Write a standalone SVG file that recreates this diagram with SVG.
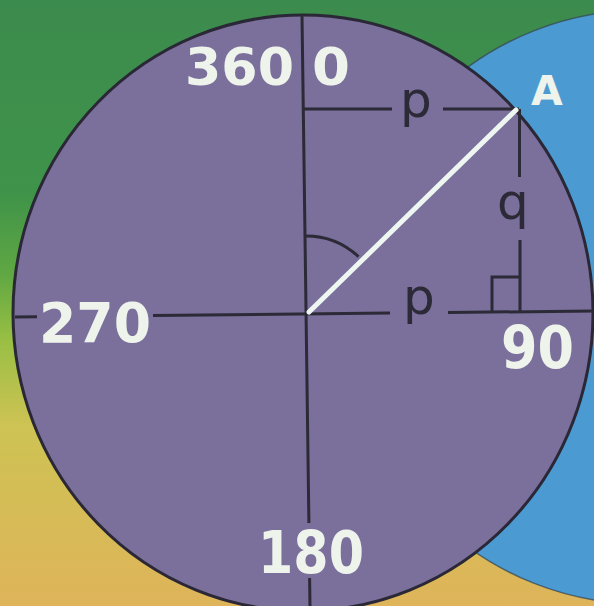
<svg xmlns="http://www.w3.org/2000/svg" width="594" height="606" viewBox="0 0 594 606">
  <defs>
    <linearGradient id="bg" x1="0" y1="0" x2="0" y2="1">
      <stop offset="0" stop-color="#3c8b4e"/>
      <stop offset="0.32" stop-color="#3f9349"/>
      <stop offset="0.45" stop-color="#5fa743"/>
      <stop offset="0.56" stop-color="#98bf44"/>
      <stop offset="0.7" stop-color="#cdc353"/>
      <stop offset="1" stop-color="#dfb45a"/>
    </linearGradient>
    <style>
      .ln { stroke: #2c2a36; stroke-width: 3; fill: none; stroke-linecap: butt; }
      .num { font-family: "DejaVu Sans", "Liberation Sans", sans-serif; font-weight: bold; fill: #eef3ec; }
      .var { font-family: "DejaVu Sans", "Liberation Sans", sans-serif; fill: #2c2a36; font-size: 50px; }
    </style>
  </defs>

  <rect id="background" x="0" y="0" width="594" height="606" fill="url(#bg)"/>

  <g id="circle-blue">
    <circle cx="643" cy="307" r="297" fill="#4b9bd2" stroke="#34454e" stroke-width="1.5" stroke-opacity="0.7"/>
  </g>

  <g id="circle-purple">
    <ellipse cx="303" cy="313" rx="290" ry="298" fill="#7b6f9b" stroke="#2a2836" stroke-width="3"/>
  </g>

  <g id="connectors">
    <!-- vertical axis -->
    <line class="ln" x1="302" y1="15" x2="308.9" y2="523"/>
    <line class="ln" x1="309.6" y1="578" x2="310" y2="606"/>
    <!-- horizontal axis -->
    <line class="ln" x1="15" y1="317" x2="37" y2="316.8"/>
    <line class="ln" x1="153" y1="315.6" x2="390" y2="313.1"/>
    <line class="ln" x1="448" y1="312.5" x2="594" y2="311"/>
    <!-- top p line -->
    <line class="ln" x1="303" y1="109" x2="392" y2="109"/>
    <line class="ln" x1="443" y1="109" x2="519" y2="109"/>
    <!-- q line -->
    <line class="ln" x1="519.5" y1="109" x2="519.5" y2="177"/>
    <line class="ln" x1="520" y1="240" x2="520" y2="313"/>
    <!-- right angle marker -->
    <polyline class="ln" points="492,312.5 492,277 520,277"/>
    <!-- angle arc -->
    <path class="ln" d="M305,236 A77,77 0 0 1 358.5,256.7"/>
    <!-- radius line to A -->
    <line x1="309" y1="312" x2="516" y2="110" stroke="#eef6f2" stroke-width="5" stroke-linecap="round"/>
  </g>

  <g id="label-360"><text class="num" x="185" y="85" font-size="52" textLength="109" lengthAdjust="spacingAndGlyphs">360</text></g>
  <g id="label-0"><text class="num" x="312" y="85" font-size="52" textLength="38" lengthAdjust="spacingAndGlyphs">0</text></g>
  <g id="label-270"><text class="num" x="39" y="342" font-size="55" textLength="112" lengthAdjust="spacingAndGlyphs">270</text></g>
  <g id="label-90"><text class="num" x="501" y="368" font-size="58" textLength="73" lengthAdjust="spacingAndGlyphs">90</text></g>
  <g id="label-180"><text class="num" x="258" y="573" font-size="58" textLength="106" lengthAdjust="spacingAndGlyphs">180</text></g>
  <g id="label-A"><text class="num" x="531" y="105" font-size="41">A</text></g>
  <g id="label-p-top"><text class="var" x="400" y="117">p</text></g>
  <g id="label-p-mid"><text class="var" x="403" y="314">p</text></g>
  <g id="label-q"><text class="var" x="497" y="219">q</text></g>
</svg>
